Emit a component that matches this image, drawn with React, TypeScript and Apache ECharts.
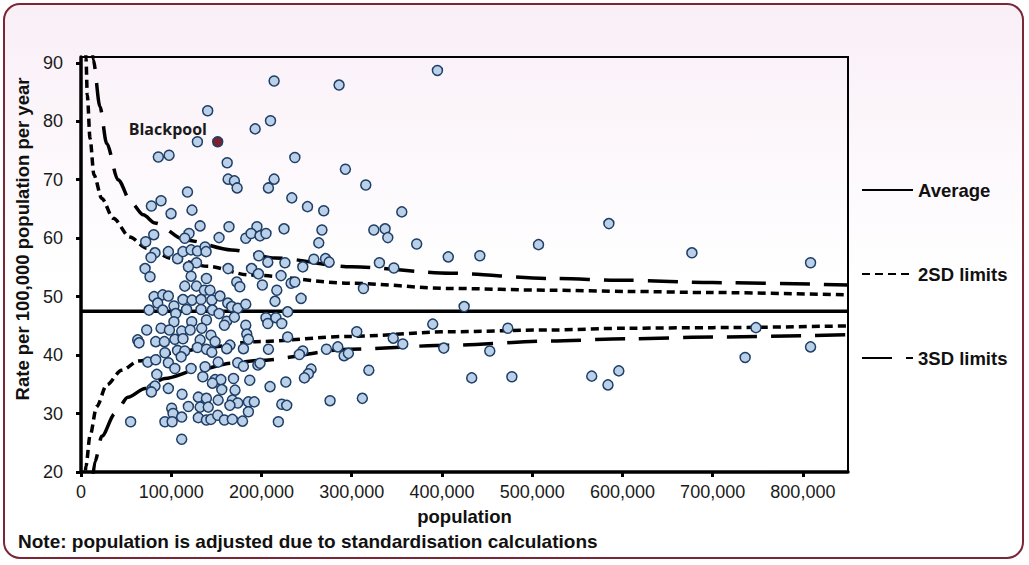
import React, { useEffect, useRef } from 'react';
import * as echarts from 'echarts';

// population (x) and rate per 100,000 (y) of each area
const population = [
  140400, 193000, 210000, 214000, 129000, 85700, 97600, 162000, 163000, 170000,
  173000, 207700, 214000, 118000, 78000, 88700, 99800, 123000, 132000, 164000,
  195000, 80600, 71700, 119700, 115000, 153000, 182600, 188500, 198400, 205000,
  82000, 77600, 96800, 107000, 113000, 122000, 129000, 137500, 138600, 128000,
  119000, 163000, 189000, 197000, 207000, 71000,
  76500, 196600, 122000, 139000, 115000, 128000, 136700, 143000, 172600, 176000,
  201000, 81000, 90600, 96800, 85000, 75400, 90600, 103000, 113000, 123000,
  133000, 145000, 154000, 162600, 167000, 173700, 182600, 105000, 117000, 133000,
  145600, 153000, 103000, 122700, 139000, 161500, 170000, 158900, 182600, 205000,
  207000, 72800, 88700, 98000, 111600, 121000, 133800, 144000, 183700, 62800,
  64300, 82800, 92400, 104000, 113000, 132000, 148600, 165000, 185500, 129000,
  139000, 145000, 161500, 180000, 207700, 93000, 107000, 115000, 74000, 82800,
  96800, 104000, 111000, 122000, 137500, 152000, 173700, 180000, 196000, 198400,
  84000, 135000, 148600, 155000, 169000, 187000, 145600, 79000, 82000, 78000,
  96800, 156000, 170700, 209500, 112000, 130000, 139000, 152000, 167700, 173700,
  185500, 192000, 119000, 132000, 141000, 165000, 100500, 102000, 185500, 111600,
  130000, 139000, 144000, 151500, 158900, 167700, 179000, 93000, 101000, 55000,
  111600,
  286000, 395000, 237000, 293000, 315600, 233600, 251000, 269000, 355500, 225000,
  267000, 263500, 324500, 337000, 340000, 372000, 407000, 442000, 226000, 245800,
  258000, 271000, 275000, 330700, 346700, 221700, 232800, 237000, 217000, 313000,
  215000, 243900, 229000, 216000, 222500, 424600, 389800, 305600, 229000, 346000,
  356600, 402000, 245800, 242000, 272000, 284600, 291600, 296300, 255000, 252000,
  247600, 319000, 433000, 227000, 222500, 228000, 276000, 311800, 218700,
  507000, 585000, 677000, 808500, 473000, 748000, 453000, 808500, 736000, 477500,
  566000, 584000, 596000,
];
const rate = [
  81.8, 78.7, 80.1, 86.9, 76.5, 73.9, 74.2, 72.9, 70.1, 69.8,
  68.6, 68.6, 70.1, 67.9, 65.5, 66.4, 64.2, 64.8, 62.1, 61.95,
  61.95, 60.6, 59.4, 60.8, 60.0, 60.1, 60.0, 60.8, 60.4, 60.8,
  57.5, 56.7, 57.7, 56.5, 57.7, 58.0, 57.8, 58.5, 57.7, 55.8,
  55.1, 54.8, 54.8, 57.0, 55.9, 54.8,
  53.4, 53.9, 53.5, 53.1, 51.8, 51.8, 51.1, 51.1, 52.5, 51.7,
  52.0, 50.0, 50.3, 50.1, 48.9, 47.7, 47.7, 48.4, 49.5, 49.4,
  49.5, 49.4, 50.1, 48.9, 48.3, 48.0, 48.7, 47.1, 47.8, 47.8,
  47.7, 47.1, 45.7, 45.7, 46.0, 45.8, 46.5, 45.1, 45.1, 46.4,
  45.4, 44.3, 44.6, 44.3, 44.1, 44.3, 44.6, 43.4, 43.6, 42.6,
  42.1, 42.3, 42.3, 42.7, 42.8, 42.6, 42.3, 41.7, 42.7, 41.3,
  41.0, 40.5, 41.1, 41.1, 41.0, 40.4, 40.8, 40.7, 38.8, 39.2,
  38.7, 37.7, 39.7, 37.7, 38.0, 38.8, 38.7, 38.1, 38.3, 38.6,
  36.7, 36.3, 35.8, 35.8, 36.0, 35.7, 35.2, 34.3, 34.7, 33.7,
  34.3, 34.1, 34.0, 34.6, 33.3, 32.8, 32.6, 32.3, 32.3, 31.8,
  32.0, 32.0, 31.2, 31.1, 31.1, 31.4, 30.9, 30.0, 30.3, 29.4,
  29.3, 28.9, 29.0, 29.7, 28.9, 29.0, 28.7, 28.6, 28.6, 28.6,
  25.6,
  86.2, 88.7, 73.8, 71.8, 69.1, 66.9, 65.4, 64.7, 64.5, 61.6,
  61.4, 59.2, 61.4, 61.6, 60.1, 59.0, 56.8, 57.0, 55.8, 55.1,
  56.4, 56.5, 55.9, 55.8, 54.9, 53.6, 52.3, 52.5, 51.1, 51.4,
  49.2, 49.7, 47.4, 46.4, 45.4, 48.3, 45.3, 44.0, 43.1, 42.9,
  41.9, 41.2, 40.7, 40.1, 41.0, 41.4, 39.9, 40.3, 37.6, 36.8,
  36.1, 37.4, 36.1, 35.4, 31.6, 31.4, 32.2, 32.6, 28.6,
  58.9, 62.5, 57.5, 55.8, 44.6, 44.7, 40.7, 41.4, 39.6, 36.3,
  36.4, 34.9, 37.3,
];

const blackpoolPop = 151500;
const blackpoolRate = 76.5;

const average = 47.5;

// control limits
const upper2x = [4600, 5500, 7000, 10000, 14400, 23000, 35800, 54000, 72800, 102000, 140000, 187000, 298000, 409000, 520000, 605000, 700000, 850000];
const upper2y = [96, 90.8, 84.5, 77.1, 70.8, 66.8, 63.4, 60.2, 58.3, 56.5, 55.2, 53.7, 52.3, 51.4, 51.1, 50.9, 50.7, 50.3];
const upper3x = [11500, 13600, 21000, 28500, 41000, 56000, 69000, 82000, 115000, 167000, 215000, 300000, 410000, 520000, 605000, 700000, 850000];
const upper3y = [94, 90.5, 82.5, 76.2, 70.0, 66.0, 64.0, 62.6, 59.7, 58.0, 56.6, 55.1, 54.0, 53.1, 52.8, 52.4, 52.0];
const lower2x = [4000, 5500, 10000, 17400, 28500, 45000, 64000, 100000, 140000, 193000, 298000, 409000, 520000, 605000, 700000, 850000];
const lower2y = [18, 21, 26.2, 31.2, 34.9, 37.4, 39.0, 40.3, 41.3, 42.3, 43.2, 44.0, 44.3, 44.6, 44.7, 45.0];
const lower3x = [12500, 15500, 23000, 37700, 52000, 71000, 93000, 130000, 167000, 197000, 298000, 409000, 520000, 605000, 700000, 850000];
const lower3y = [18, 21.8, 26.1, 30.0, 32.8, 34.3, 36.0, 37.5, 38.6, 39.1, 41.0, 41.7, 42.4, 42.8, 43.1, 43.5];

const xTicks = [0, 100000, 200000, 300000, 400000, 500000, 600000, 700000, 800000];
const yTicks = [20, 30, 40, 50, 60, 70, 80, 90];

const FONT = '"Liberation Sans", Arial, sans-serif';
const SHORT_DASH = [8, 5];
const LONG_DASH = [30, 14];

const zip = (xs: number[], ys: number[]) => xs.map((x, i) => [x, ys[i]]);

const App = () => {
  const chartRef = useRef<HTMLDivElement>(null);

  useEffect(() => {
    if (!chartRef.current) return;
    const chart = echarts.init(chartRef.current, null, { renderer: 'svg' });

    const limitLine = (name: string, xs: number[], ys: number[], dash: number[]) => ({
      name,
      type: 'line',
      data: zip(xs, ys),
      symbol: 'none',
      smooth: 0.3,
      smoothMonotone: 'x',
      clip: true,
      z: 2,
      lineStyle: { color: '#000', width: 3.5, type: dash },
      itemStyle: { color: '#000', opacity: 0 },
    });

    const option = {
      animation: false,
      graphic: [
        {
          type: 'rect',
          z: -10,
          shape: { x: 4, y: 4, width: 1019, height: 554, r: 16 },
          style: {
            fill: new echarts.graphic.LinearGradient(0, 0, 0, 1, [
              { offset: 0, color: '#f9eff7' },
              { offset: 0.5, color: '#ffffff' },
              { offset: 1, color: '#ffffff' },
            ]),
            stroke: '#7a2635',
            lineWidth: 2,
          },
        },
        {
          // y axis title, placed where the original sits (above the plot's centre)
          type: 'text',
          x: 22,
          y: 239,
          rotation: Math.PI / 2,
          style: {
            text: 'Rate per 100,000 population per year',
            font: 'bold 18.5px ' + FONT,
            fill: '#111',
            align: 'center',
            verticalAlign: 'middle',
          },
        },
        {
          type: 'text',
          x: 18,
          y: 541,
          style: {
            text: 'Note: population is adjusted due to standardisation calculations',
            font: 'bold 19px ' + FONT,
            fill: '#111',
            verticalAlign: 'middle',
          },
        },
      ],
      grid: {
        left: 81,
        right: 181,
        top: 57,
        bottom: 93,
        show: true,
        borderColor: '#000',
        borderWidth: 2,
        backgroundColor: 'transparent',
      },
      legend: {
        data: ['Average', '2SD limits', '3SD limits'],
        orient: 'vertical',
        left: 856,
        top: 175.5,
        itemWidth: 51,
        itemHeight: 14,
        itemGap: 65,
        itemStyle: { opacity: 0 },
        textStyle: { fontSize: 18.5, fontWeight: 'bold', fontFamily: FONT, color: '#111' },
      },
      xAxis: {
        type: 'value',
        min: 0,
        max: 850000,
        interval: 100000,
        name: 'population',
        nameLocation: 'middle',
        nameGap: 35,
        nameTextStyle: { fontSize: 18.5, fontWeight: 'bold', fontFamily: FONT, color: '#111' },
        axisLine: { lineStyle: { color: '#000', width: 3.5 } },
        axisTick: { show: true, length: 5, lineStyle: { color: '#000', width: 3 }, customValues: xTicks },
        axisLabel: {
          customValues: xTicks,
          fontSize: 18,
          fontFamily: FONT,
          color: '#1a1a1a',
          margin: 11,
          formatter: (v: number) => v.toLocaleString('en-US'),
        },
        splitLine: { show: false },
      },
      yAxis: {
        type: 'value',
        min: 20,
        max: 91,
        interval: 10,
        axisLine: { lineStyle: { color: '#000', width: 3.5 } },
        axisTick: { show: true, length: 5, lineStyle: { color: '#000', width: 3 }, customValues: yTicks },
        axisLabel: { customValues: yTicks, fontSize: 18, fontFamily: FONT, color: '#1a1a1a', margin: 18 },
        splitLine: { show: false },
      },
      series: [
        {
          name: 'Average',
          type: 'line',
          data: [[0, average], [850000, average]],
          symbol: 'none',
          z: 2,
          lineStyle: { color: '#000', width: 3.5, type: 'solid' },
          itemStyle: { color: '#000', opacity: 0 },
        },
        limitLine('2SD limits', upper2x, upper2y, SHORT_DASH),
        limitLine('2SD limits', lower2x, lower2y, SHORT_DASH),
        limitLine('3SD limits', upper3x, upper3y, LONG_DASH),
        limitLine('3SD limits', lower3x, lower3y, LONG_DASH),
        {
          name: 'Areas',
          type: 'scatter',
          z: 3,
          data: zip(population, rate),
          symbolSize: 10,
          itemStyle: { color: '#b9d0e8', borderColor: '#1f3e66', borderWidth: 1.5, opacity: 1 },
        },
        {
          name: 'Blackpool',
          type: 'scatter',
          z: 4,
          data: [[blackpoolPop, blackpoolRate]],
          symbolSize: 10,
          itemStyle: { color: '#7b2230', borderColor: '#1f3e66', borderWidth: 1.5, opacity: 1 },
          label: {
            show: true,
            formatter: 'Blackpool',
            position: 'left',
            offset: [0, -13],
            distance: 5,
            fontSize: 16,
            fontWeight: 'bold',
            fontFamily: '"Open Sans", sans-serif',
            color: '#1a1a1a',
          },
        },
      ],
    };

    chart.setOption(option as any);
    return () => {
      chart.dispose();
    };
  }, []);

  return (
    <div
      ref={chartRef}
      style={{ position: 'absolute', left: 0, top: 0, width: 1029, height: 565 }}
    ></div>
  );
};

export default App;
